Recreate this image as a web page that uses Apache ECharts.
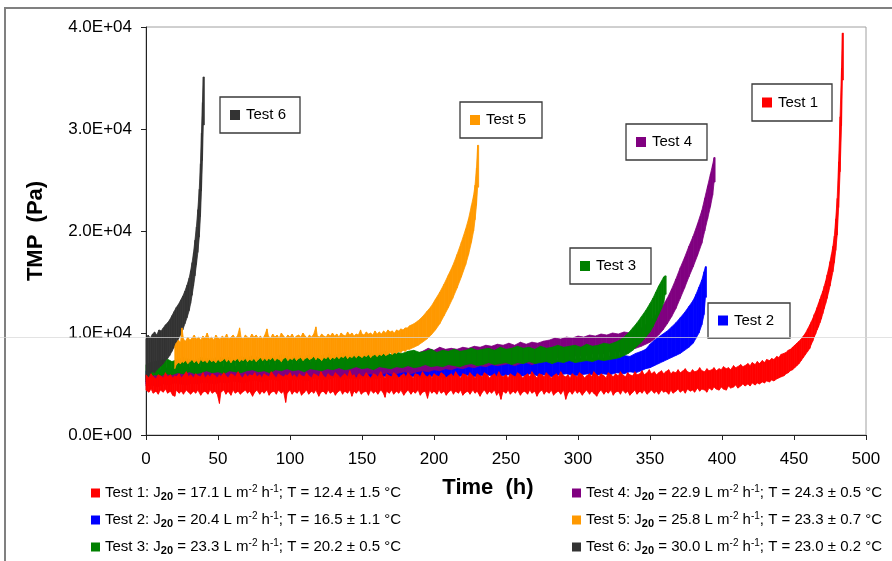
<!DOCTYPE html>
<html>
<head>
<meta charset="utf-8">
<script src="https://cdn.jsdelivr.net/npm/echarts@6/dist/echarts.min.js"></script>
<style>
  html, body { margin: 0; padding: 0; background: #fff; }
  #chart { width: 892px; height: 561px; }
</style>
</head>
<body>
<div id="chart"></div>
<script>
// TMP (Pa) against filtration time (h) for six runs.
// Each entry is [time h, lower TMP Pa, upper TMP Pa]: the spread of the logged points.
const test1 = [
  [0,4400,5900],[2,4200,5600],[3.5,4500,6000],[5,4100,5700],[7,4300,5500],[8.5,4000,5900],[10,4400,5800],
  [12,4200,5600],[13.5,4500,6100],[15,4100,5700],[17,4300,5900],[18.5,3900,5600],[20,3800,5800],[21,4400,5700],
  [23,4100,6000],[24.5,4300,5600],[26,4000,5800],[28,4400,6200],[29.5,4200,5700],[31,4000,5900],[33,4300,5600],
  [34.5,4100,6000],[36,4400,5800],[38,3900,5700],[39.5,4200,6100],[41,4300,5600],[43,4000,5900],[44.5,4400,5700],
  [46,4100,6000],[48,4300,5800],[49.5,4000,5600],[51,3100,5900],[52,4200,5700],[54,4400,6100],[55.5,4000,5800],
  [57,4300,5600],[59,3900,6000],[60.5,4400,5900],[62,4100,5700],[64,4300,6200],[65.5,4000,5800],[67,4200,5600],
  [69,4400,6000],[70.5,4100,5700],[72,4300,5900],[74,3800,5800],[75.5,4200,6100],[77,4400,5700],[79,4000,5900],
  [80.5,4300,5600],[82,4100,6000],[84,4400,5800],[85.5,3900,5700],[87,4200,6200],[89,4300,5800],[90.5,4000,5600],
  [92,4400,6000],[94,4100,5800],[95.5,4300,5700],[97,3200,5900],[98,4100,5800],[100,4400,6100],[101.5,4000,5700],
  [103,4300,5900],[105,4100,5600],[106.5,4400,6000],[108,3900,5800],[110,4200,5700],[111.5,4400,6100],[113,4000,5800],
  [115,4300,5600],[116.5,4100,6000],[118,4400,5900],[120,3800,5700],[121.5,4200,6200],[123,4300,5800],[125,4000,5600],
  [126.5,4400,6000],[128,4100,5800],[130,4300,5700],[131.5,3900,6100],[133,4200,5900],[135,4400,5600],[136.5,4000,5800],
  [138,4300,6000],[140,4100,5700],[141.5,4400,6300],[143,3800,5800],[144.5,4300,5900],[146,4100,5600],[148,4400,6000],
  [149.5,4000,5800],[151,4200,5700],[153,4300,6100],[154.5,3900,5800],[156,4400,5600],[158,4100,6000],[159.5,4300,5900],
  [161,4000,5700],[163,4400,6200],[164.5,4200,5800],[166,3700,5600],[167,4300,6000],[169,4100,5800],[170.5,4400,5700],
  [172,4000,6100],[174,4300,5900],[175.5,4100,5600],[177,4400,5800],[179,3900,6000],[180.5,4200,5700],[182,4400,6100],
  [184,4000,5800],[185.5,4300,5600],[187,4100,6000],[189,4400,5900],[190.5,3900,5700],[192,4200,6200],[194,4300,5800],
  [195.5,3600,5700],[197,4400,5900],[198.5,4100,5600],[200,4300,6000],[202,4000,5800],[203.5,4400,5700],[205,4100,6100],
  [207,4300,5900],[208.5,3900,5600],[210,4200,5800],[212,4400,6000],[213.5,4000,5700],[215,4300,6200],[217,4100,5800],
  [218.5,4400,5600],[220,3900,6000],[222,4200,5900],[223.5,4300,5700],[225,4000,6100],[227,4400,5800],[228.5,4100,5600],
  [230,4300,6000],[232,3800,5800],[233.5,4200,5700],[235,4400,6100],[237,4000,5900],[238.5,4300,5600],[240,4100,5800],
  [242,4400,6000],[243.5,3900,5700],[245,4200,6200],[246.5,3500,5800],[248,4300,5700],[250,4100,5900],[251.5,4400,5600],
  [253,4000,6000],[255,4300,5800],[256.5,4100,5700],[258,4400,6100],[260,3900,5900],[261.5,4200,5600],[263,4300,5800],
  [265,4000,6000],[266.5,4400,5700],[268,4100,6200],[270,4300,5800],[271.5,3800,5600],[273,4200,6000],[275,4400,5900],
  [276.5,4000,5700],[278,4300,6100],[280,4100,5800],[281.5,4400,5600],[283,3900,5800],[285,4200,6000],[286.5,4300,5700],
  [288,4000,6200],[290,4400,5800],[291.5,3500,5700],[293,4100,5900],[294.5,4300,5600],[296,4000,6000],[298,4400,5800],
  [299.5,4100,5700],[301,4300,6100],[303,3900,5900],[304.5,4200,5600],[306,4400,5800],[308,4000,6000],[309.5,4300,5700],
  [311,4100,6200],[313,3800,5900],[314.5,4200,5700],[316,4400,6000],[318,4000,5800],[319.5,4300,5600],[321,4100,6100],
  [323,4400,5900],[324.5,3900,5700],[326,4200,6000],[328,4300,5800],[329.5,4000,6200],[331,4400,5900],[333,4100,5700],
  [334.5,4300,6100],[336,3900,5900],[338,4200,5800],[339.5,4400,6200],[341,4000,5900],[343,4300,6000],[344.5,4100,6300],
  [346,4400,5900],[348,4000,6100],[349.5,4200,6400],[351,4400,6000],[353,4100,6200],[354.5,4300,5900],[356,4000,6100],
  [358,4400,6300],[359.5,4200,6000],[361,4300,6200],[363,4000,6400],[364.5,4400,6000],[366,4100,6200],[368,4300,6100],
  [369.5,4500,6400],[371,4200,6100],[373,4400,6300],[374.5,4100,6500],[376,4500,6200],[378,4300,6100],[379.5,4400,6400],
  [381,4200,6200],[383,4600,6300],[384.5,4300,6600],[386,4500,6300],[388,4400,6200],[389.5,4200,6500],[391,4600,6300],
  [393,4400,6400],[394.5,4700,6600],[396,4500,6300],[398,4400,6500],[399.5,4700,6400],[401,4500,6700],[403,4400,6500],
  [404.5,4800,6600],[406,4600,6400],[408,4700,6800],[409.5,4900,6600],[411,4600,6700],[413,4800,6900],[414.5,5000,6700],
  [416,4800,6800],[418,5000,7000],[419.5,4800,6800],[421,5100,7100],[423,4900,6900],[424.5,5100,7200],[426,5000,7000],
  [428,5200,7300],[429.5,5100,7100],[431,5300,7400],[433,5200,7300],[434.5,5400,7500],[436,5300,7400],[438,5500,7700],
  [439.5,5600,7600],[441,5700,7900],[443,5800,8000],[444.5,6000,8100],[446,6100,8300],[447.5,6300,8400],[449,6400,8600],
  [450.5,6600,8800],[452,6800,9000],[453.5,7000,9200],[455,7300,9400],[456.5,7600,9700],[458,7900,10000],
  [459.5,8200,10400],[461,8500,10800],[462,8900,11100],[463,9200,11400],[464,9600,11800],[465,9900,12100],
  [466,10300,12500],[467,10600,12900],[468,11000,13300],[469,11400,13700],[470,11900,14100],[471,12400,14600],
  [472,12900,15100],[473,13400,15700],[474,14000,16300],[475,14600,17000],[476,15300,17700],[477,16000,18500],
  [478,16900,19500],[479,18100,21200],[480,19600,23200],[481,22300,26800],[482,25800,31200],[483,30300,36000],
  [483.6,34800,39400]
];
const test2 = [
  [0,5000,6300],[5,5200,6500],[10,5300,6400],[15,5100,6600],[20,5300,6500],[25,5400,6700],[30,5200,6600],
  [35,5400,6800],[40,5300,6500],[45,5500,7600],[47,5300,6700],[52,5400,6600],[57,5200,6800],[62,5500,6700],
  [67,5300,6900],[72,5400,6600],[77,5600,6800],[82,5300,6700],[87,5500,6900],[92,5400,6600],[97,5600,6800],
  [102,5400,6900],[107,5500,6700],[112,5300,6800],[117,5600,7000],[122,5400,6700],[127,5500,6900],[132,5700,7000],
  [137,5400,6800],[142,5600,7100],[147,5500,6900],[152,5700,7000],[157,5500,7200],[162,5600,6900],[167,5800,7100],
  [172,5500,7000],[177,5700,7200],[182,5600,7000],[187,5800,7300],[192,5600,7100],[197,5700,7200],[202,5800,7000],
  [207,5600,7300],[212,5800,7200],[217,5700,7100],[222,5900,7300],[227,5700,7200],[232,5800,7400],[237,5900,7200],
  [242,5700,7300],[247,5800,7500],[252,5900,7300],[257,5700,7400],[262,5800,7200],[267,6000,7500],[272,5800,7300],
  [277,5900,7400],[282,5700,7500],[287,5900,7300],[292,6000,7600],[297,5800,7400],[302,5900,7500],[307,6000,7400],
  [312,5800,7600],[317,6000,7500],[322,5900,7700],[327,6100,7600],[332,6000,7800],[336,6200,7700],[340,6100,8000],
  [344,6300,8200],[347,6500,8400],[350,6600,8900],[353,6800,9300],[356,7000,9600],[359,7200,9900],[362,7400,10200],
  [365,7600,10600],[368,7800,11000],[371,8000,11500],[374,8300,12000],[377,8600,12600],[380,9000,13200],
  [382,9500,13800],[384,10000,14500],[386,10800,15200],[387.5,11800,16000],[388.5,13500,16500]
];
const test3 = [
  [0,5400,6900],[3,5700,7100],[6,5900,7200],[10,5800,7300],[14,6000,7500],[18,5900,7200],[22,6100,7400],
  [26,6000,7600],[30,6200,7400],[34,6000,7300],[38,6100,7600],[42,6300,7500],[46,6100,7400],[50,6200,7700],
  [54,6000,7500],[58,6300,7600],[62,6200,7400],[66,6100,7700],[70,6300,7500],[74,6400,7800],[78,6200,7600],
  [82,6300,7500],[86,6100,7700],[90,6400,7600],[94,6300,7900],[98,6500,7700],[102,6300,7600],[106,6400,7800],
  [110,6200,7700],[114,6500,7900],[118,6400,7700],[122,6300,7800],[126,6500,8000],[130,6400,7800],[134,6600,7900],
  [138,6400,8100],[142,6500,7800],[146,6700,8000],[150,6500,7900],[154,6600,8100],[158,6400,7900],[162,6700,8000],
  [166,6600,8200],[170,6500,7900],[174,6700,8100],[178,6600,8000],[182,6800,8200],[186,6600,8300],[190,6700,8100],
  [194,6900,8200],[198,6700,8400],[202,6800,8100],[206,6700,8300],[210,6900,8200],[214,6800,8400],[218,6700,8200],
  [222,6900,8300],[226,7000,8500],[230,6800,8300],[234,6900,8400],[238,7100,8500],[242,6900,8300],[246,7000,8600],
  [250,7100,8400],[254,6900,8500],[258,7100,8700],[262,7000,8500],[266,7200,8600],[270,7000,8400],[274,7100,8700],
  [278,7200,8500],[282,7000,8600],[286,7200,8800],[290,7100,8600],[294,7300,8700],[298,7100,8800],[302,7200,8600],
  [306,7300,8900],[310,7200,8700],[314,7400,8800],[318,7300,9000],[322,7400,8900],[326,7500,9100],[329,7600,9300],
  [332,7800,9600],[335,8000,10000],[338,8300,10500],[341,8700,11000],[344,9100,11600],[347,9600,12200],
  [350,10100,12900],[352,10600,13400],[354,11200,14000],[356,11800,14600],[358,12400,15100],[359.5,13000,15500],
  [360.5,13800,15600]
];
const test4 = [
  [0,4800,5900],[4,4900,6100],[8,4700,6000],[12,5000,6200],[16,4900,6300],[20,5100,6100],[24,5000,6400],
  [28,4900,6200],[32,5100,6500],[36,5000,6300],[40,5200,6400],[44,5100,6600],[48,5000,6400],[52,5200,6500],
  [56,5100,6700],[60,5300,6500],[64,5200,6600],[68,5100,6800],[72,5300,6600],[76,5400,6700],[80,5200,6900],
  [84,5400,6700],[88,5500,6800],[92,5300,7000],[96,5500,6800],[100,5400,7000],[104,5600,6900],[108,5500,7100],
  [112,5400,7000],[116,5600,7200],[120,5700,7000],[124,5500,7200],[128,5700,7100],[132,5800,7300],[136,5600,7200],
  [140,5800,7400],[144,5900,7300],[148,5700,7500],[152,5900,7400],[156,6000,7600],[160,5800,7500],[164,6000,7700],
  [168,6100,7500],[172,5900,7700],[176,6100,7800],[180,6200,7700],[184,6000,7900],[188,6200,8000],[192,6300,8200],
  [196,6200,8500],[200,6400,8300],[204,6300,8600],[208,6500,8400],[212,6400,8500],[216,6600,8400],[220,6500,8600],
  [224,6700,8500],[228,6600,8700],[232,6800,8600],[236,6700,8800],[240,6900,8700],[244,6800,8900],[248,6900,8800],
  [252,7000,9000],[256,6800,8800],[260,7000,9100],[264,7100,8900],[268,6900,9100],[272,7100,9000],[276,7200,9200],
  [280,7300,9300],[284,7500,9500],[288,7600,9400],[292,7500,9600],[296,7700,9500],[300,7800,9700],[304,7700,9600],
  [308,7900,9800],[312,8000,9700],[316,7900,9900],[320,8100,9800],[324,8200,10000],[328,8100,9900],[332,8300,10100],
  [336,8400,10000],[340,8500,10300],[344,8700,10500],[347,8900,10800],[350,9100,11100],[353,9400,11600],
  [356,9800,12100],[359,10300,12700],[362,10900,13400],[365,11600,14300],[368,12400,15300],[371,13400,16400],
  [374,14400,17400],[377,15500,18500],[380,16500,19500],[383,17600,20700],[386,18800,22000],[388,20000,23200],
  [390,21200,24400],[392,22400,25600],[393.5,23500,26500],[394.5,24800,27200]
];
const test5 = [
  [20,6500,8700],[21,6900,9000],[22.5,7100,9300],[24,7000,9100],[25,7200,10500],[26,7100,9400],[27.5,7300,9200],
  [29,7000,9600],[30.5,7200,9300],[32,7400,9500],[33.5,7100,9800],[35,7300,9400],[36.5,7000,9600],[38,7400,9300],
  [39.5,7200,9700],[41,7300,9500],[42.5,7100,10000],[44,7400,9400],[45.5,7200,9600],[47,7300,9300],[48.5,7100,9800],
  [50,7400,9500],[51.5,7200,9400],[53,7300,9700],[54.5,7500,9500],[56,7200,9900],[57.5,7400,9400],[59,7100,9600],
  [60.5,7400,9800],[62,7300,9500],[63.5,7500,9700],[65,7200,10500],[66,7400,9600],[67.5,7300,9400],[69,7500,9800],
  [70.5,7200,9600],[72,7400,9500],[73.5,7300,9900],[75,7500,9600],[76.5,7200,9800],[78,7400,9500],[79.5,7600,9700],
  [81,7300,9400],[82.5,7500,9800],[84,7300,10400],[85,7500,9700],[86.5,7400,9500],[88,7600,9900],[89.5,7300,9600],
  [91,7500,9800],[92.5,7400,9500],[94,7200,10000],[95.5,7500,9700],[97,7600,9500],[98.5,7300,9800],[100,7500,9600],
  [101.5,7400,9900],[103,7600,9500],[104.5,7300,9700],[106,7500,9800],[107.5,7600,9600],[109,7300,10000],
  [110.5,7500,9700],[112,7600,9500],[113.5,7400,9800],[115,7500,9600],[116.5,7700,9900],[118,7400,10600],
  [119,7600,9700],[120.5,7500,9600],[122,7300,9900],[123.5,7600,9700],[125,7500,9600],[126.5,7700,9900],
  [128,7400,9700],[129.5,7600,10000],[131,7500,9700],[132.5,7700,9900],[134,7500,9600],[135.5,7700,10000],
  [137,7600,9800],[138.5,7800,9700],[140,7500,10100],[141.5,7700,9800],[143,7600,10000],[144.5,7800,9700],
  [146,7600,9900],[147.5,7800,9800],[149,7700,10300],[150,7600,9900],[151.5,7800,9800],[153,7700,10100],
  [154.5,7900,9900],[156,7600,10000],[157.5,7800,9800],[159,7900,10200],[160.5,7700,9900],[162,7900,10100],
  [163.5,7800,9900],[165,8000,10200],[166.5,7800,10000],[168,7900,10300],[169.5,8100,10100],[171,7900,10200],
  [172.5,8100,10000],[174,8000,10300],[175.5,8200,10200],[177,8100,10400],[178.5,8300,10300],[180,8200,10500],
  [181.5,8400,10500],[183,8400,10700],[186,8600,10900],[189,8800,11200],[192,9100,11600],[195,9400,12100],
  [198,9800,12600],[201,10300,13300],[204,10900,14000],[207,11700,14800],[210,12500,15700],[213,13400,16600],
  [216,14400,17700],[219,15500,18900],[222,16700,20200],[224,17700,21200],[226,18900,22500],[227.5,20000,23500],
  [228.5,21100,24500],[229.5,22500,26200],[230.3,24300,28400]
];
const test6 = [
  [0,5200,9400],[1.5,5700,9800],[3,6000,9500],[4.5,6200,9900],[6,6100,10100],[7.5,6400,9800],[9,6600,10300],
  [10.5,6800,10200],[12,7000,10500],[13.5,7300,10800],[15,7500,11000],[16.5,7800,11300],[18,8200,11700],
  [19.5,8600,12100],[21,9000,12500],[22.5,9400,12800],[24,9800,13200],[25.5,10300,13600],[27,10900,14100],
  [28.5,11500,14700],[30,12200,15400],[31,12900,16100],[32,13700,16900],[33,14600,17900],[34,15600,19100],
  [35,16700,20400],[36,17900,22100],[37,19400,24100],[37.8,21400,26600],[38.5,23900,29600],[39.2,26900,32600],
  [39.8,30400,35100]
];

const seriesNames = ['Test 1', 'Test 2', 'Test 3', 'Test 4', 'Test 5', 'Test 6'];
const fluxes = ['17.1', '20.4', '23.3', '22.9', '25.8', '30.0'];
const temperatures = ['12.4 ± 1.5', '16.5 ± 1.1', '20.2 ± 0.5', '24.3 ± 0.5', '23.3 ± 0.7', '23.0 ± 0.2'];
const xTicks = { min: 0, max: 500, step: 50 };
const yTicks = { min: 0, max: 40000, step: 10000 };

const palette = {
  'Test 1': '#ff0000',
  'Test 2': '#0000ff',
  'Test 3': '#008000',
  'Test 4': '#800080',
  'Test 5': '#ff9900',
  'Test 6': '#333333'
};
const runs = { 'Test 1': test1, 'Test 2': test2, 'Test 3': test3, 'Test 4': test4, 'Test 5': test5, 'Test 6': test6 };
// drawing order, bottom to top
const drawOrder = ['Test 2', 'Test 4', 'Test 3', 'Test 6', 'Test 5', 'Test 1'];

const FONT = '"Liberation Sans", Arial, sans-serif';

// pair every sample with the one after it so each item draws one slice of the band
function withNext(rows) {
  return rows.map((r, i) => {
    const n = rows[i + 1] || [r[0] + 0.7, r[1], r[2]];
    return [r[0], r[1], r[2], n[0], n[1], n[2]];
  });
}

function bandRenderer(color) {
  return function (params, api) {
    const pts = [
      api.coord([api.value(0), api.value(1)]),
      api.coord([api.value(0), api.value(2)]),
      api.coord([api.value(3), api.value(5)]),
      api.coord([api.value(3), api.value(4)])
    ];
    return {
      type: 'polygon',
      shape: { points: pts },
      style: { fill: color, stroke: color, lineWidth: 0.8 }
    };
  };
}

function sci(v) {
  if (v === 0) return '0.0E+00';
  const e = Math.floor(Math.log10(v));
  const m = v / Math.pow(10, e);
  return m.toFixed(1) + 'E+' + String(e).padStart(2, '0');
}

function legendText(name) {
  const i = seriesNames.indexOf(name);
  return name + ': J{sub|20} = ' + fluxes[i] + ' L m{sup|-2} h{sup|-1}; T = ' + temperatures[i] + ' °C';
}

const legendRich = {
  sub: { fontSize: 11, lineHeight: 11, verticalAlign: 'bottom', fontFamily: FONT, color: '#000', fontWeight: 'bold' },
  sup: { fontSize: 10, lineHeight: 10, verticalAlign: 'top', fontFamily: FONT, color: '#000' }
};

function makeLegend(names, left) {
  return {
    data: names,
    orient: 'vertical',
    left: left,
    top: 484,
    padding: 0,
    itemGap: 9,
    itemWidth: 9,
    itemHeight: 9,
    icon: 'rect',
    selectedMode: false,
    formatter: legendText,
    textStyle: { fontSize: 15, lineHeight: 18, color: '#000', fontFamily: FONT, rich: legendRich }
  };
}

function tag(x, y, w, h, name) {
  return {
    type: 'group', x: x, y: y, z: 100,
    children: [
      { type: 'rect', shape: { x: 0, y: 0, width: w, height: h }, style: { fill: '#fff', stroke: '#3a3a3a', lineWidth: 1.3 } },
      { type: 'rect', shape: { x: 10, y: h / 2 - 5, width: 10, height: 10 }, style: { fill: palette[name] } },
      { type: 'text', x: 26, y: h / 2, style: { text: name, fill: '#000', fontSize: 15, fontFamily: FONT, verticalAlign: 'middle' } }
    ]
  };
}

const chart = echarts.init(document.getElementById('chart'), null, { renderer: 'canvas' });

chart.setOption({
  animation: false,
  backgroundColor: '#fff',
  grid: { left: 146, right: 26, top: 27, bottom: 126, show: true, borderColor: '#a0a0a0', borderWidth: 1 },
  xAxis: {
    type: 'value',
    min: xTicks.min, max: xTicks.max, interval: xTicks.step,
    name: 'Time  (h)',
    nameLocation: 'middle',
    nameGap: 42,
    nameTextStyle: { fontSize: 22, fontWeight: 'bold', color: '#000', fontFamily: FONT, padding: [0, 36, 0, 0] },
    axisLine: { show: true, lineStyle: { color: '#222', width: 1 } },
    axisTick: { show: true, inside: false, length: 5, lineStyle: { color: '#222' } },
    axisLabel: { fontSize: 17, color: '#000', fontFamily: FONT, margin: 16 },
    splitLine: { show: false }
  },
  yAxis: {
    type: 'value',
    min: yTicks.min, max: yTicks.max, interval: yTicks.step,
    name: 'TMP  (Pa)',
    nameLocation: 'middle',
    nameGap: 99,
    nameTextStyle: { fontSize: 22, fontWeight: 'bold', color: '#000', fontFamily: FONT },
    axisLine: { show: true, lineStyle: { color: '#222', width: 1 } },
    axisTick: { show: true, inside: false, length: 5, lineStyle: { color: '#222' } },
    axisLabel: { fontSize: 17, color: '#000', fontFamily: FONT, margin: 14, formatter: sci },
    splitLine: { show: false }
  },
  legend: [
    makeLegend(['Test 1', 'Test 2', 'Test 3'], 91),
    makeLegend(['Test 4', 'Test 5', 'Test 6'], 572)
  ],
  series: drawOrder.map(name => ({
    type: 'custom',
    name: name,
    color: palette[name],
    itemStyle: { color: palette[name] },
    renderItem: bandRenderer(palette[name]),
    encode: { x: [0, 3], y: [1, 2, 4, 5] },
    data: withNext(runs[name]),
    silent: true
  })),
  graphic: [
    // frame around the figure
    { type: 'rect', z: -10, shape: { x: 5, y: 8, width: 1000, height: 1000 }, style: { fill: 'none', stroke: '#808080', lineWidth: 2 } },
    tag(752, 84, 80, 37, 'Test 1'),
    tag(708, 303, 82, 35, 'Test 2'),
    tag(570, 248, 81, 36, 'Test 3'),
    tag(626, 124, 81, 36, 'Test 4'),
    tag(460, 102, 82, 36, 'Test 5'),
    tag(220, 97, 80, 36, 'Test 6'),
    // faint rule running across the figure
    { type: 'line', z: 200, shape: { x1: 0, y1: 337.5, x2: 892, y2: 337.5 }, style: { stroke: 'rgba(215,215,215,0.7)', lineWidth: 1 } }
  ]
});
</script>
</body>
</html>
